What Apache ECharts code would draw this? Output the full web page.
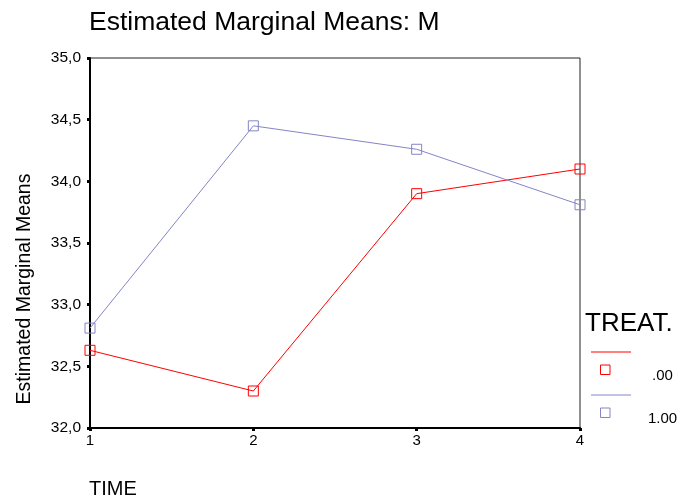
<!DOCTYPE html>
<html>
<head>
<meta charset="utf-8">
<script src="https://cdn.jsdelivr.net/npm/echarts@6/dist/echarts.min.js"></script>
<style>html,body{margin:0;padding:0;background:#fff}#c{width:682px;height:500px}</style>
</head>
<body>
<div id="c"></div>
<script>
var titleText = 'Estimated Marginal Means: M';
var xName = 'TIME';
var yName = 'Estimated Marginal Means';
var legendTitle = 'TREAT.';
var categories = ['1', '2', '3', '4'];
var seriesNames = ['.00', '1.00'];
var seriesColors = ['#ff0000', '#8484c6'];
var treat0 = [32.63, 32.30, 33.90, 34.10];
var treat1 = [32.81, 34.45, 34.26, 33.81];

var font = 'Arial, "Liberation Sans", sans-serif';
var chart = echarts.init(document.getElementById('c'), null, {renderer: 'canvas'});
var allData = [treat0, treat1];
var legendTextX = [652, 648];

var graphics = [
  {type: 'text', x: 89, y: 23, style: {text: titleText, font: '26.5px ' + font, fill: '#000', verticalAlign: 'middle', align: 'left'}},
  {type: 'text', x: 25, y: 289, rotation: Math.PI / 2, style: {text: yName, font: '19.5px ' + font, fill: '#000', verticalAlign: 'middle', align: 'center'}},
  {type: 'text', x: 89, y: 489, style: {text: xName, font: '20px ' + font, fill: '#000', verticalAlign: 'middle', align: 'left'}},
  {type: 'text', x: 585, y: 324, style: {text: legendTitle, font: '26px ' + font, fill: '#000', verticalAlign: 'middle', align: 'left'}}
];
seriesNames.forEach(function (n, i) {
  var y0 = 352 + i * 43;
  graphics.push({type: 'line', shape: {x1: 591, y1: y0, x2: 631, y2: y0}, style: {stroke: seriesColors[i], lineWidth: 1}});
  graphics.push({type: 'rect', shape: {x: 600.5, y: y0 + 13, width: 9.5, height: 9.5}, style: {stroke: seriesColors[i], fill: 'none', lineWidth: 1}});
  graphics.push({type: 'text', x: legendTextX[i], y: y0 + 24, style: {text: n, font: '15px ' + font, fill: '#000', verticalAlign: 'middle', align: 'left'}});
});

chart.setOption({
  animation: false,
  backgroundColor: '#fff',
  grid: {left: 90, right: 102, top: 58, bottom: 72, show: true, borderColor: '#222', borderWidth: 1, backgroundColor: 'transparent'},
  xAxis: {
    type: 'category', data: categories, boundaryGap: false,
    axisLine: {lineStyle: {color: '#000', width: 2}},
    axisTick: {show: true, length: 3, lineStyle: {color: '#000', width: 3}},
    axisLabel: {fontFamily: font, fontSize: 15, color: '#000', margin: 5},
    splitLine: {show: false}
  },
  yAxis: {
    type: 'value', min: 32, max: 35, interval: 0.5,
    axisLine: {show: true, lineStyle: {color: '#000', width: 2}},
    axisTick: {show: true, length: 3, lineStyle: {color: '#000', width: 3}},
    axisLabel: {fontFamily: font, fontSize: 15.5, color: '#000', margin: 9,
      formatter: function (v) { return v.toFixed(1).replace('.', ','); }},
    splitLine: {show: false}
  },
  series: seriesNames.map(function (n, i) {
    return {
      name: n, type: 'line', data: allData[i],
      symbol: 'rect', symbolSize: 10, showSymbol: true,
      lineStyle: {color: seriesColors[i], width: 1},
      itemStyle: {color: 'rgba(255,255,255,0)', borderColor: seriesColors[i], borderWidth: 1},
      z: 3 + i
    };
  }),
  graphic: graphics
});
</script>
</body>
</html>
